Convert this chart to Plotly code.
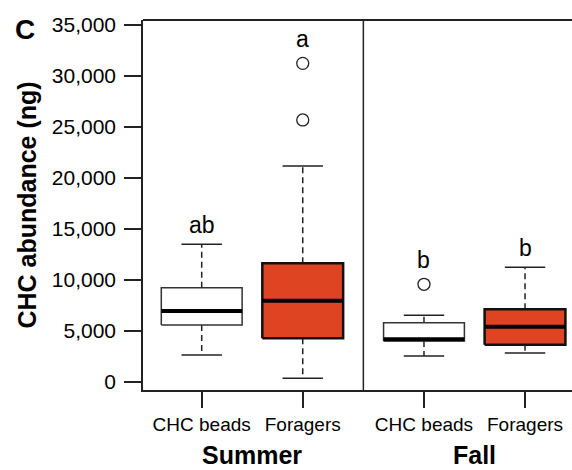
import plotly.graph_objects as go

# Summary statistics of CHC abundance (ng) per group
groups = ["Summer CHC beads", "Summer Foragers", "Fall CHC beads", "Fall Foragers"]
tick_labels = ["CHC beads", "Foragers", "CHC beads", "Foragers"]
seasons = ["Summer", "Fall"]
positions = [1.0, 2.0, 3.2, 4.2]
lower_whisker = [2650, 360, 2550, 2840]
q1 = [5590, 4280, 4020, 3660]
median = [6960, 7970, 4190, 5420]
q3 = [9245, 11640, 5815, 7125]
upper_whisker = [13500, 21180, 6540, 11245]
outliers = [[], [25690, 31240], [9580], []]
letters = ["ab", "a", "b", "b"]
fill_colors = ["white", "#DE4421", "white", "#DE4421"]
edge_colors = ["#333333", "#111111", "#333333", "#111111"]

FONT = "Liberation Sans, Arial, Helvetica, sans-serif"
BOX_HALF = 0.4
CAP_HALF = 0.2

fig = go.Figure()

for i in range(len(groups)):
    c = positions[i]
    # dashed whiskers
    fig.add_trace(go.Scatter(
        x=[c, c, None, c, c],
        y=[q3[i], upper_whisker[i], None, q1[i], lower_whisker[i]],
        mode="lines", line=dict(color="#222222", width=1.5, dash="6px,4px"),
        hoverinfo="skip", showlegend=False))
    # whisker caps
    fig.add_trace(go.Scatter(
        x=[c - CAP_HALF, c + CAP_HALF, None, c - CAP_HALF, c + CAP_HALF],
        y=[upper_whisker[i], upper_whisker[i], None, lower_whisker[i], lower_whisker[i]],
        mode="lines", line=dict(color="#222222", width=1.5),
        hoverinfo="skip", showlegend=False))
    # box
    fig.add_trace(go.Scatter(
        x=[c - BOX_HALF, c + BOX_HALF, c + BOX_HALF, c - BOX_HALF, c - BOX_HALF],
        y=[q1[i], q1[i], q3[i], q3[i], q1[i]],
        mode="lines", fill="toself", fillcolor=fill_colors[i],
        line=dict(color=edge_colors[i], width=2.5 if fill_colors[i] != "white" else 1.5),
        hoverinfo="skip", showlegend=False))
    # median
    fig.add_trace(go.Scatter(
        x=[c - BOX_HALF, c + BOX_HALF], y=[median[i], median[i]],
        mode="lines", line=dict(color="black", width=4),
        hoverinfo="skip", showlegend=False))
    # outliers
    if outliers[i]:
        fig.add_trace(go.Scatter(
            x=[c] * len(outliers[i]), y=outliers[i], mode="markers",
            marker=dict(symbol="circle-open", size=12, color="#222222",
                        line=dict(width=1.3)),
            hoverinfo="skip", showlegend=False))
    # significance letters above the highest mark
    top = max([upper_whisker[i]] + outliers[i])
    fig.add_annotation(
        x=c, y=top, xref="x", yref="y", text=letters[i], showarrow=False,
        yanchor="bottom", yshift=9 if outliers[i] else 4,
        font=dict(family=FONT, size=23, color="black"))

# season labels under the group ticks
season_centers = [(positions[0] + positions[1]) / 2, (positions[2] + positions[3]) / 2]
for name, xc in zip(seasons, season_centers):
    fig.add_annotation(
        x=xc, y=0, xref="x", yref="paper", text=name, showarrow=False,
        yanchor="bottom", yshift=-80, borderpad=0,
        font=dict(family=FONT, size=25, color="black", weight="bold"))

# panel letter
fig.add_annotation(
    x=0, y=1, xref="paper", yref="paper", text="C", showarrow=False,
    xanchor="center", yanchor="middle", xshift=-118, yshift=-9,
    font=dict(family=FONT, size=28, color="black", weight="bold"))

divider = (positions[1] + positions[2]) / 2
fig.add_shape(type="line", xref="x", yref="paper", x0=divider, x1=divider,
              y0=0, y1=1, line=dict(color="#222222", width=1.5))
fig.add_shape(type="line", xref="paper", yref="paper", x0=0, x1=1,
              y0=1, y1=1, line=dict(color="#222222", width=2))

fig.update_layout(
    width=572, height=470,
    margin=dict(l=143, r=0, t=20, b=80),
    plot_bgcolor="white", paper_bgcolor="white",
    font=dict(family=FONT, color="black"),
    xaxis=dict(
        range=[0.419, 4.665], showgrid=False, zeroline=False,
        showline=True, linecolor="#222222", linewidth=1.5,
        tickmode="array", tickvals=positions, ticktext=tick_labels,
        ticks="outside", ticklen=16, tickwidth=1.5, tickcolor="#222222",
        tickfont=dict(family=FONT, size=19, color="black"),
        ticklabelstandoff=0),
    yaxis=dict(
        range=[-784, 35490], showgrid=False, zeroline=False,
        showline=True, linecolor="#222222", linewidth=1.5,
        tickmode="array", tickvals=list(range(0, 35001, 5000)),
        tickformat=",d",
        ticks="outside", ticklen=17, tickwidth=1.5, tickcolor="#222222",
        tickfont=dict(family=FONT, size=21, color="black"),
        ticklabelstandoff=4,
        title=dict(text="CHC abundance (ng)", standoff=8,
                   font=dict(family=FONT, size=25, color="black", weight="bold"))),
)

fig.write_html("out.html")
